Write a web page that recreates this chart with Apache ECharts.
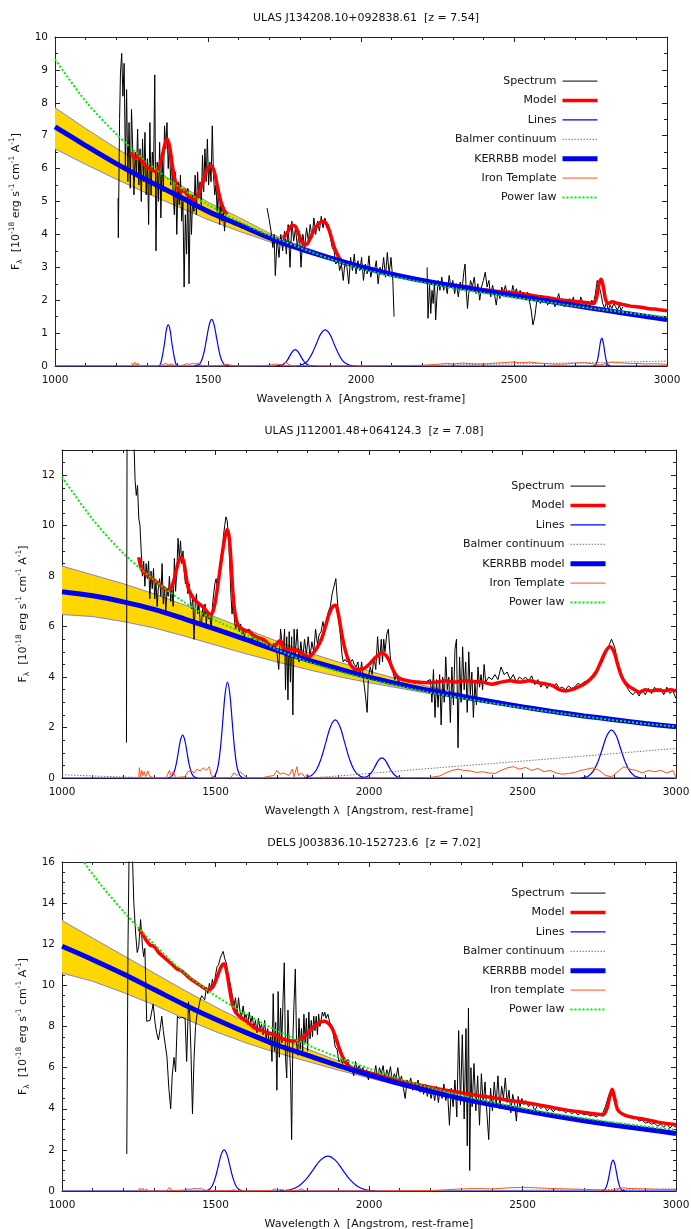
<!DOCTYPE html>
<html><head><meta charset="utf-8">
<script src="https://cdn.jsdelivr.net/npm/echarts@6/dist/echarts.min.js"></script>
<style>html,body{margin:0;padding:0;background:#fff}#c{width:691px;height:1229px}</style>
</head><body><div id="c"></div>
<script>
// ---------- shared ----------
const titles = ['ULAS J134208.10+092838.61  [z = 7.54]', 'ULAS J112001.48+064124.3  [z = 7.08]', 'DELS J003836.10-152723.6  [z = 7.02]'];
const wl = [1000,1100,1200,1300,1400,1500,1600,1700,1800,1900,2000,2100,2200,2300,2400,2500,2600,2700,2800,2900,3000];

// ---------- panel 1 ----------
const spec1 = [[1206,5.1],[1207,3.9],[1211,7.5],[1214,8.9],[1218,9.5],[1222,8.2],[1226,9.2],[1230,6.0],[1234,8.4],[1238,5.6],[1242,7.4],[1246,5.4],[1250,7.8],[1254,6.6],[1258,5.2],[1262,6.5],[1266,5.8],[1270,7.2],[1274,5.5],[1278,6.6],[1282,5.0],[1286,6.9],[1290,5.6],[1294,7.1],[1298,5.2],[1302,6.3],[1306,4.3],[1310,7.4],[1314,5.2],[1318,6.5],[1322,5.9],[1326,8.85],[1330,3.5],[1334,6.2],[1338,5.0],[1342,6.8],[1346,4.5],[1350,6.4],[1354,5.3],[1358,7.3],[1362,6.6],[1366,7.4],[1370,6.0],[1374,6.8],[1378,5.5],[1382,6.4],[1386,5.3],[1390,4.6],[1394,5.9],[1398,4.0],[1402,5.6],[1406,4.9],[1410,5.8],[1414,4.4],[1418,5.0],[1422,2.4],[1426,4.6],[1430,3.4],[1434,5.4],[1438,2.5],[1442,5.1],[1446,4.0],[1450,5.2],[1454,4.7],[1458,5.8],[1462,4.6],[1466,5.9],[1470,5.1],[1474,5.6],[1478,4.9],[1482,6.4],[1486,5.3],[1490,6.6],[1494,5.6],[1498,6.9],[1502,5.5],[1506,6.2],[1510,5.6],[1514,7.3],[1518,5.8],[1522,5.2],[1526,5.5],[1530,4.7],[1534,5.4],[1538,4.3],[1542,5.0],[1546,4.4],[1550,4.8],[1554,4.1],[1558,4.6],[1620,null],
[1693,4.8],[1700,4.45],[1706,4.1],[1712,3.6],[1716,4.0],[1720,2.75],[1726,3.9],[1732,3.3],[1738,4.0],[1744,3.5],[1750,4.1],[1756,3.4],[1762,4.3],[1768,3.0],[1774,4.4],[1780,3.8],[1786,4.2],[1792,3.6],[1798,4.1],[1804,3.0],[1810,4.0],[1816,3.6],[1822,4.2],[1828,3.8],[1834,4.3],[1840,3.9],[1846,4.5],[1852,4.0],[1858,4.4],[1864,4.1],[1870,4.55],[1876,4.2],[1882,4.5],[1888,4.2],[1894,4.3],[1900,3.9],[1906,3.6],[1912,3.5],[1918,3.1],[1924,3.4],[1930,2.9],[1936,3.1],[1942,2.6],[1948,3.2],[1954,3.0],[1960,2.5],[1966,3.3],[1972,2.9],[1978,3.4],[1984,2.8],[1990,3.2],[1996,2.9],[2002,3.3],[2008,2.6],[2014,3.1],[2020,2.8],[2026,3.35],[2032,2.7],[2038,3.0],[2044,2.9],[2050,3.2],[2056,2.5],[2062,3.0],[2068,2.8],[2074,3.3],[2080,2.7],[2086,3.45],[2092,2.8],[2098,3.3],[2104,2.6],[2108,1.5],[2160,null],
[2216,3.0],[2219,1.45],[2224,2.5],[2228,1.6],[2232,2.3],[2236,1.9],[2240,2.6],[2244,1.4],[2248,2.1],[2252,2.6],[2258,2.3],[2264,2.7],[2270,2.3],[2276,2.5],[2282,2.2],[2288,2.75],[2294,2.4],[2300,2.6],[2306,2.2],[2312,2.5],[2318,2.1],[2324,2.55],[2330,2.3],[2336,2.85],[2340,3.1],[2344,2.3],[2348,1.75],[2352,2.2],[2358,2.6],[2364,2.4],[2370,2.7],[2376,2.2],[2382,2.5],[2388,2.0],[2394,2.4],[2400,2.6],[2406,2.85],[2412,2.4],[2418,2.6],[2424,2.1],[2430,2.45],[2436,2.2],[2442,1.85],[2448,2.3],[2454,2.05],[2460,2.4],[2466,2.25],[2472,2.45],[2478,2.15],[2484,2.3],[2490,2.1],[2496,2.45],[2502,2.2],[2508,2.35],[2514,2.1],[2520,2.3],[2526,2.15],[2532,2.2],[2538,2.0],[2544,2.25],[2550,2.0],[2556,1.7],[2562,1.25],[2568,1.5],[2574,1.95],[2580,2.1],[2586,1.9],[2592,2.15],[2598,1.95],[2604,2.1],[2610,1.85],[2616,2.05],[2622,1.9],[2628,2.1],[2634,1.8],[2640,2.0],[2646,2.2],[2652,1.95],[2658,2.05],[2664,1.8],[2670,2.0],[2676,1.85],[2682,2.05],[2688,1.9],[2694,2.1],[2700,1.85],[2706,2.0],[2712,1.8],[2718,2.1],[2724,1.95],[2730,2.0],[2736,1.85],[2742,1.95],[2748,1.8],[2754,2.0],[2760,1.9],[2766,2.2],[2772,2.6],[2778,2.45],[2784,2.2],[2790,1.9],[2796,1.75],[2802,1.95],[2808,1.7],[2814,1.85],[2820,1.75],[2826,1.9],[2832,1.8],[2838,1.7],[2844,1.85],[2850,1.7],[2856,1.8]];
const model1 = [[1250,6.5],[1262,6.3],[1272,6.4],[1282,6.25],[1295,6.1],[1310,6.0],[1325,5.92],[1338,6.0],[1348,6.3],[1358,6.7],[1366,6.9],[1374,6.7],[1382,6.2],[1392,5.65],[1402,5.4],[1412,5.3],[1422,5.35],[1432,5.2],[1442,5.15],[1452,5.05],[1462,5.1],[1472,5.3],[1482,5.55],[1492,5.85],[1502,6.05],[1512,6.08],[1522,5.85],[1532,5.4],[1542,5.0],[1552,4.75],[1562,4.6],[1650,null],
[1745,3.9],[1755,4.0],[1765,4.15],[1775,4.28],[1785,4.25],[1795,4.05],[1805,3.8],[1815,3.68],[1825,3.72],[1835,3.9],[1845,4.1],[1855,4.25],[1865,4.35],[1875,4.4],[1885,4.35],[1895,4.15],[1905,3.85],[1915,3.55],[1925,3.35],[1935,3.2],[1945,3.12],[1955,3.05],[2080,null],
[2205,2.58],[2230,2.53],[2260,2.5],[2290,2.46],[2320,2.43],[2350,2.4],[2380,2.34],[2410,2.31],[2440,2.27],[2470,2.25],[2500,2.22],[2530,2.2],[2560,2.14],[2590,2.1],[2620,2.06],[2650,2.01],[2680,1.98],[2710,1.95],[2740,1.92],[2760,1.9],[2770,2.1],[2778,2.5],[2785,2.64],[2792,2.4],[2800,2.0],[2810,1.9],[2820,1.95],[2840,1.9],[2860,1.86],[2880,1.82],[2900,1.8],[2920,1.78],[2940,1.74],[2960,1.73],[2980,1.7],[3000,1.68]];
const lines1 = [
 [[1000,0],[3000,0]],
 [[1335,0],[1343,0.03],[1348,0.17],[1353,0.41],[1359,0.76],[1364,1.10],[1370,1.25],[1376,1.10],[1381,0.76],[1387,0.41],[1392,0.17],[1397,0.03],[1405,0]],
 [[1455,0],[1464,0.02],[1472,0.06],[1480,0.19],[1488,0.46],[1496,0.86],[1504,1.25],[1512,1.42],[1520,1.25],[1528,0.86],[1536,0.46],[1544,0.19],[1552,0.06],[1560,0.02],[1570,0]],
 [[1720,0],[1731,0.01],[1740,0.02],[1749,0.07],[1758,0.16],[1767,0.3],[1776,0.44],[1785,0.5],[1794,0.44],[1803,0.3],[1812,0.16],[1821,0.07],[1830,0.02],[1839,0.01],[1850,0]],
 [[1785,0],[1796,0.01],[1810,0.05],[1825,0.15],[1839,0.36],[1854,0.67],[1868,0.97],[1883,1.1],[1898,0.97],[1912,0.67],[1927,0.36],[1941,0.15],[1956,0.05],[1970,0.01],[1985,0]],
 [[2760,0],[2763,0.01],[2767,0.04],[2771,0.12],[2775,0.28],[2779,0.52],[2783,0.75],[2787,0.85],[2791,0.75],[2795,0.52],[2799,0.28],[2803,0.12],[2807,0.04],[2811,0.01],[2815,0]]
];
const balmer1 = [[1000,0],[2000,0],[2200,0.02],[2400,0.05],[2600,0.08],[2800,0.11],[3000,0.15]];
const kerrbb1 = [7.27,6.7,6.15,5.65,5.18,4.7,4.3,3.9,3.57,3.28,3.01,2.79,2.6,2.44,2.29,2.14,1.99,1.84,1.69,1.55,1.41];
const bandLo1 = [6.6,6.13,5.68,5.25,4.85,4.45,4.1,3.78,3.5,3.23,2.97,2.75,2.56,2.4,2.25,2.1,1.95,1.8,1.65,1.51,1.37];
const bandHi1 = [7.85,7.22,6.62,6.07,5.55,4.98,4.52,4.04,3.66,3.34,3.06,2.84,2.64,2.48,2.33,2.18,2.03,1.88,1.73,1.59,1.45];
const iron1 = [[1250,0.1],[1255,0.02],[1260,0.12],[1265,0.03],[1270,0.1],[1275,0.0],[1290,0.01],[1320,0.0],[1350,0.03],[1360,0.08],[1370,0.04],[1380,0.06],[1390,0.02],[1400,0.0],[1420,0.03],[1430,0.07],[1440,0.05],[1450,0.08],[1460,0.06],[1470,0.09],[1480,0.02],[1500,0.0],[1540,0.02],[1560,0.05],[1580,0.02],[1600,0.0],[1650,0.01],[1700,0.02],[1720,0.06],[1740,0.04],[1755,0.12],[1760,0.16],[1765,0.03],[1780,0.0],[1800,0.01],[1900,0.0],[2000,0.0],[2100,0.01],[2200,0.02],[2250,0.05],[2280,0.08],[2300,0.06],[2330,0.09],[2360,0.07],[2400,0.06],[2430,0.08],[2460,0.1],[2490,0.12],[2520,0.1],[2550,0.12],[2580,0.09],[2610,0.07],[2640,0.05],[2670,0.06],[2700,0.09],[2730,0.1],[2760,0.06],[2780,0.03],[2800,0.08],[2820,0.12],[2840,0.1],[2860,0.09],[2880,0.07],[2900,0.08],[2930,0.06],[2960,0.07],[3000,0.05]];
const power1 = [9.32,8.05,7.05,6.2,5.48,4.9,4.4,3.97,3.6,3.25,2.95,2.73,2.54,2.37,2.22,2.08,1.95,1.82,1.7,1.59,1.49];

// ---------- panel 2 ----------
const spec2 = [[1210,1.4],[1212,14],[1218,15],[1222,18],[1228,16],[1234,13.5],[1238,11.8],[1242,11.2],[1246,11.6],[1250,10.3],[1254,10.0],[1258,9.0],[1262,8.0],[1266,8.6],[1270,7.6],[1274,8.5],[1278,7.9],[1282,8.6],[1286,7.1],[1290,8.2],[1294,7.5],[1298,8.3],[1302,7.1],[1306,7.8],[1310,6.8],[1314,7.6],[1318,7.9],[1322,7.2],[1326,8.5],[1330,6.9],[1334,7.6],[1338,6.6],[1342,7.4],[1346,7.2],[1350,8.0],[1354,7.0],[1358,7.5],[1362,6.8],[1366,8.7],[1370,7.4],[1374,8.2],[1378,9.5],[1382,8.7],[1386,9.4],[1390,8.5],[1394,9.0],[1398,8.2],[1402,7.7],[1406,8.0],[1410,7.3],[1414,7.7],[1418,7.0],[1422,6.7],[1426,7.2],[1430,5.5],[1434,6.9],[1438,7.3],[1442,6.5],[1446,6.9],[1450,6.2],[1454,6.0],[1458,6.7],[1462,6.4],[1466,6.9],[1470,6.1],[1474,6.6],[1478,6.3],[1482,6.4],[1486,5.9],[1490,6.8],[1494,7.3],[1498,7.7],[1502,7.9],[1506,7.5],[1510,8.0],[1514,8.3],[1518,8.8],[1522,9.0],[1526,9.6],[1530,10.0],[1534,10.35],[1538,10.2],[1542,9.6],[1546,8.6],[1550,7.3],[1554,6.5],[1558,7.1],[1562,6.2],[1566,5.9],[1570,6.3],[1574,6.0],[1578,5.8],[1582,6.1],[1586,5.7],[1590,5.9],[1594,5.6],[1598,5.8],[1610,5.9],[1620,5.5],[1630,5.6],[1640,5.4],[1650,5.5],[1660,5.2],[1670,5.3],[1680,5.1],[1690,5.35],[1700,5.0],[1706,4.3],[1712,5.9],[1720,4.9],[1725,5.9],[1728,3.5],[1732,5.6],[1736,3.1],[1740,5.8],[1744,3.8],[1748,5.6],[1752,2.5],[1756,5.9],[1760,4.9],[1766,5.9],[1772,4.6],[1778,5.4],[1784,4.7],[1790,5.5],[1796,4.9],[1802,5.6],[1808,4.8],[1814,5.4],[1820,5.0],[1826,5.9],[1832,5.3],[1838,5.7],[1844,5.8],[1850,6.2],[1856,5.8],[1862,6.3],[1868,6.6],[1874,6.8],[1880,7.3],[1886,7.6],[1892,7.9],[1896,7.2],[1900,6.6],[1904,6.0],[1908,5.5],[1912,4.9],[1916,4.6],[1922,4.7],[1928,4.6],[1934,4.75],[1940,4.6],[1946,4.7],[1952,4.5],[1958,4.4],[1964,4.6],[1970,4.0],[1976,4.6],[1982,3.9],[1988,3.3],[1994,2.6],[1998,4.0],[2004,4.4],[2010,4.1],[2016,4.8],[2022,4.3],[2028,5.6],[2034,4.5],[2040,5.5],[2044,4.6],[2048,5.5],[2052,5.0],[2058,5.7],[2063,5.9],[2068,5.0],[2072,4.5],[2078,4.2],[2084,3.9],[2090,4.1],[2096,3.8],[2102,4.0],[2110,3.85],[2120,3.9],[2130,3.8],[2140,3.85],[2150,3.75],[2160,3.85],[2170,3.8],[2180,3.75],[2190,3.85],[2200,3.9],[2205,3.0],[2210,4.3],[2215,2.4],[2220,3.9],[2225,2.8],[2230,4.1],[2235,2.1],[2240,4.0],[2245,3.0],[2250,4.8],[2255,3.5],[2260,4.0],[2265,2.2],[2270,4.4],[2275,2.9],[2280,5.1],[2285,5.5],[2290,1.2],[2295,4.8],[2300,3.0],[2305,5.2],[2310,3.5],[2315,4.6],[2320,2.6],[2325,5.0],[2330,3.3],[2335,4.2],[2340,2.4],[2345,3.8],[2350,2.9],[2355,4.4],[2360,3.6],[2365,4.1],[2370,3.5],[2375,4.5],[2380,3.8],[2390,4.0],[2400,3.9],[2410,4.1],[2420,3.9],[2430,4.4],[2440,4.1],[2450,4.2],[2460,3.9],[2470,4.1],[2480,3.8],[2490,4.0],[2500,3.9],[2510,4.0],[2520,3.85],[2530,4.05],[2540,3.7],[2550,3.9],[2560,3.6],[2570,3.8],[2580,3.55],[2590,3.75],[2600,3.6],[2610,3.75],[2620,3.55],[2630,3.6],[2640,3.5],[2650,3.65],[2660,3.55],[2670,3.6],[2680,3.75],[2690,3.7],[2700,3.8],[2710,3.85],[2720,3.95],[2730,4.0],[2740,4.2],[2750,4.4],[2760,4.6],[2770,4.9],[2780,5.2],[2790,5.5],[2800,5.2],[2810,4.6],[2820,4.2],[2830,3.9],[2840,3.6],[2850,3.4],[2860,3.3],[2870,3.45],[2880,3.25],[2890,3.5],[2900,3.3],[2910,3.55],[2920,3.35],[2930,3.6],[2940,3.4],[2950,3.55],[2960,3.3],[2970,3.6],[2980,3.35],[2990,3.45],[3000,3.15]];
const model2 = [[1250,8.75],[1258,8.3],[1266,8.15],[1276,8.05],[1290,7.95],[1305,7.8],[1320,7.65],[1335,7.5],[1348,7.45],[1358,7.6],[1368,8.0],[1378,8.5],[1388,8.75],[1396,8.6],[1404,8.0],[1412,7.5],[1422,7.25],[1432,7.05],[1442,6.95],[1452,6.85],[1462,6.75],[1472,6.6],[1482,6.5],[1490,6.55],[1498,6.9],[1506,7.5],[1514,8.2],[1522,8.9],[1530,9.5],[1538,9.85],[1545,9.5],[1551,8.5],[1557,7.3],[1564,6.5],[1572,6.1],[1582,5.95],[1595,5.85],[1610,5.8],[1625,5.65],[1640,5.55],[1655,5.5],[1670,5.35],[1685,5.2],[1695,5.25],[1705,5.4],[1712,5.45],[1720,5.15],[1735,5.1],[1750,5.1],[1765,5.05],[1780,4.95],[1795,4.85],[1805,4.8],[1818,4.95],[1830,5.15],[1845,5.5],[1858,6.0],[1870,6.5],[1882,6.8],[1891,6.85],[1900,6.5],[1910,5.8],[1920,5.2],[1932,4.7],[1945,4.4],[1958,4.3],[1970,4.3],[1985,4.35],[2000,4.5],[2015,4.7],[2028,4.85],[2040,4.95],[2052,4.9],[2064,4.7],[2076,4.35],[2090,4.05],[2105,3.92],[2130,3.85],[2160,3.8],[2190,3.78],[2220,3.8],[2250,3.85],[2280,3.8],[2310,3.85],[2340,3.82],[2370,3.8],[2400,3.72],[2430,3.8],[2460,3.85],[2490,3.8],[2520,3.85],[2550,3.78],[2580,3.72],[2600,3.65],[2620,3.5],[2640,3.45],[2660,3.5],[2680,3.6],[2700,3.72],[2720,3.9],[2740,4.2],[2755,4.6],[2770,5.0],[2785,5.2],[2798,5.0],[2810,4.5],[2822,4.05],[2836,3.75],[2850,3.6],[2865,3.5],[2880,3.4],[2900,3.5],[2920,3.45],[2940,3.5],[2960,3.45],[2980,3.5],[3000,3.45]];
const lines2 = [
 [[1000,0],[3000,0]],
 [[1345,0],[1351,0.02],[1358,0.075],[1365,0.23],[1372,0.55],[1379,1.03],[1386,1.5],[1393,1.7],[1400,1.5],[1407,1.03],[1414,0.55],[1421,0.23],[1428,0.075],[1435,0.02],[1442,0]],
 [[1485,0],[1494,0.04],[1501.5,0.17],[1509,0.51],[1516.5,1.23],[1524,2.3],[1531.5,3.35],[1539,3.8],[1546.5,3.35],[1554,2.3],[1561.5,1.23],[1569,0.51],[1576.5,0.17],[1584,0.04],[1593,0]],
 [[1790,0],[1797,0.026],[1812.5,0.10],[1828,0.31],[1843.5,0.75],[1859,1.39],[1874.5,2.03],[1890,2.3],[1905.5,2.03],[1921,1.39],[1936.5,0.75],[1952,0.31],[1967.5,0.10],[1983,0.026],[1990,0]],
 [[1970,0],[1979,0.009],[1989.5,0.035],[2000,0.11],[2010.5,0.26],[2021,0.49],[2031.5,0.71],[2042,0.8],[2052.5,0.71],[2063,0.49],[2073.5,0.26],[2084,0.11],[2094.5,0.035],[2105,0.009],[2114,0]],
 [[2690,0],[2700,0.021],[2715,0.083],[2730,0.26],[2745,0.62],[2760,1.15],[2775,1.68],[2790,1.9],[2805,1.68],[2820,1.15],[2835,0.62],[2850,0.26],[2865,0.083],[2880,0.021],[2890,0]]
];
const balmer2 = [0.13,0.08,0.04,0.01,0,0,0,0,0,0.08,0.18,0.28,0.38,0.48,0.57,0.67,0.77,0.87,0.97,1.07,1.17];
const kerrbb2 = [7.38,7.22,6.98,6.68,6.3,5.9,5.48,5.06,4.68,4.33,4.0,3.72,3.46,3.23,3.02,2.82,2.63,2.46,2.31,2.16,2.03];
const bandLo2 = [6.48,6.4,6.2,5.95,5.62,5.27,4.92,4.6,4.3,4.02,3.78,3.56,3.34,3.14,2.95,2.76,2.58,2.41,2.26,2.12,1.99];
const bandHi2 = [8.4,8.05,7.7,7.3,6.85,6.38,5.9,5.42,4.98,4.6,4.24,3.9,3.6,3.34,3.1,2.89,2.69,2.51,2.36,2.2,2.07];
const iron2 = [[1250,0.0],[1252,0.41],[1256,0.05],[1260,0.3],[1264,0.1],[1268,0.25],[1272,0.05],[1280,0.28],[1285,0.08],[1290,0.02],[1300,0.0],[1340,0.02],[1350,0.3],[1356,0.05],[1362,0.25],[1370,0.02],[1400,0.05],[1410,0.25],[1420,0.3],[1430,0.2],[1440,0.35],[1450,0.28],[1460,0.4],[1470,0.3],[1480,0.45],[1485,0.15],[1495,0.0],[1550,0.02],[1560,0.2],[1570,0.1],[1580,0.25],[1590,0.15],[1600,0.02],[1650,0.01],[1690,0.1],[1700,0.3],[1710,0.15],[1720,0.2],[1740,0.1],[1750,0.35],[1756,0.05],[1765,0.45],[1770,0.1],[1780,0.2],[1790,0.05],[1800,0.15],[1810,0.02],[1820,0.0],[2000,0.0],[2200,0.02],[2230,0.08],[2250,0.2],[2270,0.3],[2290,0.35],[2310,0.3],[2330,0.28],[2350,0.22],[2370,0.25],[2390,0.2],[2410,0.18],[2430,0.3],[2450,0.4],[2470,0.45],[2490,0.35],[2510,0.42],[2530,0.3],[2550,0.38],[2570,0.25],[2590,0.3],[2610,0.2],[2630,0.15],[2650,0.18],[2670,0.22],[2690,0.3],[2710,0.35],[2730,0.4],[2750,0.3],[2770,0.1],[2790,0.05],[2810,0.25],[2830,0.45],[2850,0.35],[2870,0.3],[2890,0.2],[2910,0.3],[2930,0.25],[2950,0.3],[2970,0.2],[2990,0.3],[3000,0.02]];
const power2 = [11.93,10.25,8.9,7.85,6.95,6.25,5.7,5.1,4.6,4.22,3.9,3.63,3.38,3.17,2.97,2.78,2.61,2.44,2.29,2.15,2.04];

// ---------- panel 3 ----------
const spec3 = [[1211,1.8],[1215,12],[1219,17],[1224,19],[1229,16.5],[1234,14],[1240,12.5],[1245,11.6],[1250,11.9],[1256,13.2],[1262,11.9],[1266,11.4],[1270,11.8],[1276,8.25],[1281,8.2],[1287,8.3],[1292,8.7],[1297,9.1],[1303,8.2],[1308,7.7],[1314,7.35],[1320,7.9],[1325,8.5],[1330,7.8],[1336,7.75],[1342,6.5],[1348,5.0],[1354,4.0],[1359,5.6],[1365,6.5],[1370,5.8],[1376,8.5],[1382,8.4],[1390,8.45],[1396,8.5],[1401,8.4],[1406,6.3],[1412,9.2],[1416,8.6],[1420,6.8],[1425,3.75],[1430,6.4],[1435,8.0],[1440,8.6],[1445,8.9],[1450,9.3],[1455,9.5],[1460,9.55],[1465,9.3],[1470,9.9],[1475,9.6],[1480,10.1],[1485,9.8],[1490,10.3],[1495,9.9],[1500,10.5],[1505,10.9],[1510,11.0],[1515,11.3],[1520,11.5],[1525,11.65],[1530,11.3],[1535,11.1],[1540,10.6],[1545,10.3],[1550,9.9],[1555,9.5],[1560,9.0],[1565,9.4],[1570,8.6],[1575,9.4],[1580,8.7],[1585,8.5],[1590,9.0],[1595,8.4],[1600,8.6],[1605,8.1],[1610,8.7],[1615,8.2],[1620,8.5],[1625,7.9],[1630,8.3],[1635,7.7],[1640,8.4],[1645,7.9],[1650,8.1],[1655,7.6],[1660,8.3],[1665,7.4],[1670,7.9],[1675,7.1],[1680,7.5],[1684,6.3],[1688,9.6],[1692,6.8],[1696,8.2],[1700,4.9],[1704,9.7],[1708,6.5],[1712,8.9],[1716,7.2],[1720,9.3],[1724,11.1],[1728,6.5],[1732,5.5],[1736,8.8],[1740,7.2],[1744,6.0],[1748,2.5],[1752,7.4],[1756,9.2],[1760,10.8],[1764,7.2],[1768,6.6],[1772,8.4],[1776,6.9],[1780,7.9],[1784,6.8],[1788,8.6],[1792,7.2],[1796,8.4],[1800,6.8],[1804,8.7],[1808,7.4],[1812,8.3],[1816,7.5],[1820,8.5],[1824,7.8],[1828,8.5],[1832,7.6],[1836,8.6],[1840,8.0],[1844,8.3],[1848,8.7],[1852,8.5],[1856,8.7],[1860,8.4],[1866,8.6],[1872,8.2],[1878,8.1],[1884,7.6],[1890,7.0],[1896,6.9],[1902,6.3],[1908,6.4],[1914,6.2],[1920,6.5],[1926,6.3],[1932,6.4],[1938,5.8],[1944,6.0],[1950,5.6],[1956,6.3],[1962,5.9],[1968,6.1],[1974,5.8],[1980,6.0],[1986,5.7],[1992,5.9],[1998,5.4],[2004,5.8],[2010,5.5],[2016,5.6],[2022,6.1],[2028,5.5],[2034,6.0],[2040,5.7],[2046,6.1],[2052,5.4],[2058,5.9],[2064,5.6],[2070,6.05],[2076,5.3],[2082,5.7],[2088,5.5],[2094,6.0],[2100,5.3],[2106,5.6],[2112,5.0],[2118,4.5],[2124,5.4],[2130,5.2],[2136,5.5],[2142,4.9],[2148,5.3],[2154,5.1],[2160,5.4],[2166,4.8],[2172,5.1],[2178,4.7],[2184,5.2],[2190,4.6],[2196,5.0],[2202,4.5],[2208,4.9],[2214,4.4],[2220,5.1],[2226,4.3],[2232,5.0],[2238,4.5],[2244,5.2],[2250,4.4],[2256,4.8],[2262,3.2],[2268,5.0],[2274,4.1],[2280,5.4],[2286,3.6],[2292,7.8],[2298,4.2],[2304,7.6],[2310,3.5],[2316,7.9],[2320,2.2],[2324,8.9],[2328,1.0],[2332,6.0],[2336,4.1],[2342,6.2],[2348,3.9],[2354,5.6],[2360,3.2],[2366,5.7],[2372,4.2],[2378,5.3],[2384,3.8],[2390,2.5],[2396,5.0],[2402,3.9],[2408,5.3],[2414,4.2],[2420,5.6],[2426,4.0],[2432,5.1],[2438,4.5],[2444,5.5],[2450,4.3],[2456,4.9],[2462,3.8],[2468,4.7],[2474,4.3],[2480,3.4],[2486,4.6],[2492,4.1],[2498,4.5],[2504,4.2],[2510,4.4],[2520,4.1],[2530,4.3],[2540,3.9],[2550,4.2],[2560,4.0],[2570,4.15],[2580,3.9],[2590,4.05],[2600,3.85],[2610,4.0],[2620,3.9],[2630,3.95],[2640,3.8],[2650,3.9],[2660,3.75],[2670,3.85],[2680,3.7],[2690,3.8],[2700,3.7],[2710,3.75],[2720,3.65],[2730,3.7],[2740,3.6],[2750,3.7],[2760,3.75],[2770,4.1],[2780,4.6],[2790,4.9],[2800,4.3],[2810,3.9],[2820,3.75],[2830,3.7],[2840,3.6],[2850,3.65],[2860,3.5],[2870,3.55],[2880,3.4],[2890,3.45],[2900,3.3],[2910,3.35],[2920,3.25],[2930,3.3],[2940,3.15],[2950,3.25],[2960,3.1],[2970,3.3],[2980,3.05],[2990,3.2],[3000,3.1]];
const model3 = [[1250,12.75],[1262,12.5],[1274,12.2],[1288,11.95],[1300,11.9],[1315,11.6],[1330,11.4],[1345,11.2],[1360,11.0],[1375,10.8],[1390,10.7],[1405,10.5],[1420,10.3],[1435,10.15],[1450,10.0],[1465,9.85],[1478,9.8],[1490,9.9],[1500,10.2],[1510,10.6],[1520,10.95],[1528,11.05],[1536,10.7],[1545,9.9],[1555,9.1],[1565,8.7],[1578,8.5],[1592,8.35],[1610,8.15],[1630,7.9],[1650,7.8],[1670,7.7],[1690,7.6],[1710,7.45],[1730,7.35],[1750,7.3],[1765,7.3],[1780,7.4],[1795,7.6],[1810,7.85],[1825,8.05],[1840,8.2],[1855,8.25],[1868,8.15],[1880,7.9],[1892,7.45],[1904,6.9],[1916,6.45],[1930,6.15],[1945,5.95],[1965,5.85],[1985,5.8],[2000,5.75],[2050,5.55],[2100,5.35],[2150,5.2],[2200,5.05],[2250,4.9],[2300,4.78],[2350,4.65],[2400,4.55],[2450,4.42],[2500,4.32],[2550,4.2],[2600,4.05],[2650,3.92],[2700,3.82],[2740,3.75],[2762,3.7],[2775,4.0],[2785,4.65],[2792,4.95],[2800,4.55],[2810,3.95],[2828,3.72],[2860,3.58],[2900,3.48],[2940,3.35],[2970,3.28],[3000,3.22]];
const lines3 = [
 [[1000,0],[3000,0]],
 [[1463,0],[1471,0.022],[1480.5,0.088],[1490,0.27],[1499.5,0.65],[1509,1.21],[1518.5,1.77],[1528,2.0],[1537.5,1.77],[1547,1.21],[1556.5,0.65],[1566,0.27],[1575.5,0.088],[1585,0.022],[1593,0]],
 [[1710,0],[1722,0.019],[1746,0.075],[1770,0.23],[1794,0.55],[1818,1.03],[1842,1.5],[1866,1.7],[1890,1.5],[1914,1.03],[1938,0.55],[1962,0.23],[1986,0.075],[2010,0.019],[2022,0]],
 [[2755,0],[2762,0.017],[2767.5,0.066],[2773,0.2],[2778.5,0.49],[2784,0.91],[2789.5,1.32],[2795,1.5],[2800.5,1.32],[2806,0.91],[2811.5,0.49],[2817,0.2],[2822.5,0.066],[2828,0.017],[2835,0]]
];
const balmer3 = [[1000,0],[2200,0],[2500,0.04],[2800,0.07],[3000,0.1]];
const kerrbb3 = [11.9,11.25,10.55,9.8,9.05,8.35,7.7,7.1,6.6,6.1,5.65,5.22,4.85,4.5,4.2,3.92,3.66,3.42,3.2,3.0,2.8];
const bandLo3 = [10.6,10.2,9.65,9.05,8.38,7.75,7.2,6.72,6.3,5.88,5.5,5.12,4.77,4.43,4.13,3.85,3.6,3.36,3.14,2.94,2.74];
const bandHi3 = [13.15,12.3,11.45,10.6,9.75,8.95,8.2,7.5,6.9,6.32,5.8,5.32,4.93,4.57,4.27,3.99,3.72,3.48,3.26,3.06,2.86];
const iron3 = [[1250,0.0],[1252,0.15],[1258,0.03],[1263,0.14],[1268,0.02],[1275,0.1],[1280,0.0],[1340,0.0],[1350,0.18],[1356,0.05],[1365,0.02],[1400,0.05],[1410,0.1],[1420,0.08],[1430,0.12],[1440,0.1],[1450,0.13],[1460,0.08],[1470,0.02],[1500,0.0],[1550,0.02],[1560,0.06],[1570,0.02],[1600,0.0],[1680,0.02],[1695,0.1],[1705,0.05],[1715,0.08],[1730,0.0],[1770,0.04],[1780,0.1],[1790,0.03],[1800,0.0],[2000,0.0],[2200,0.02],[2250,0.06],[2300,0.1],[2350,0.12],[2400,0.1],[2450,0.15],[2500,0.18],[2550,0.15],[2600,0.12],[2650,0.1],[2700,0.08],[2750,0.05],[2790,0.03],[2810,0.12],[2830,0.15],[2850,0.12],[2900,0.1],[2950,0.08],[3000,0.08]];
const power3 = [17.6,15.4,13.6,12.0,10.6,9.5,8.6,7.8,7.1,6.5,5.95,5.45,5.02,4.65,4.32,4.03,3.77,3.54,3.33,3.14,2.97];

// ---------- build ----------
const FONT = 'DejaVu Sans';
const TXT = '#111';
const AX = '#222';
const P = a => a.map(p => [p[0], p[1] == null ? '-' : p[1]]);
const zip = (xs, ys) => xs.map((x, k) => [x, ys[k]]);

const panels = [
  {spec: spec1, model: model1, lines: lines1, balmer: balmer1, kerrbb: kerrbb1, lo: bandLo1, hi: bandHi1, iron: iron1, power: power1, ironName: 'Iron Template',
   ymax: 10, yint: 1, ysplit: 2, grid: {left: 55, right: 24, top: 37, height: 329}, tx: 361, ty: 8, legend: {right: 86, top: 70.5}, yGap: 30},
  {spec: spec2, model: model2, lines: lines2, balmer: zip(wl, balmer2), kerrbb: kerrbb2, lo: bandLo2, hi: bandHi2, iron: iron2, power: power2, ironName: 'Iron Template',
   ymax: 13, yint: 2, ysplit: 4, grid: {left: 62, right: 15, top: 450, height: 328}, tx: 369, ty: 421, legend: {right: 78, top: 475.5}, yGap: 31},
  {spec: spec3, model: model3, lines: lines3, balmer: balmer3, kerrbb: kerrbb3, lo: bandLo3, hi: bandHi3, iron: iron3, power: power3, ironName: 'Iron template',
   ymax: 16, yint: 2, ysplit: 4, grid: {left: 62, right: 15, top: 862, height: 329}, tx: 369, ty: 833, legend: {right: 78, top: 882.5}, yGap: 31}
];

const grids = [], xAxes = [], yAxes = [], series = [], legends = [], titleArr = [];
const tickCommon = () => ({
  axisLine: {show: true, onZero: false, lineStyle: {color: AX, width: 1}},
  axisTick: {show: true, inside: true, length: 5, lineStyle: {color: AX, width: 1}},
  splitLine: {show: false}, minorSplitLine: {show: false}
});
const yName = '{n|F}{sub|λ}{n|  [10}{sup|-18}{n| erg s}{sup|-1}{n| cm}{sup|-1}{n| A}{sup|-1}{n|]}';
const numFmt = v => String(v);

panels.forEach((p, i) => {
  grids.push(Object.assign({outerBoundsMode: 'none', containLabel: false}, p.grid));
  titleArr.push({text: titles[i], left: p.tx, top: p.ty, textAlign: 'center',
    textStyle: {fontFamily: FONT, fontSize: 11, fontWeight: 'normal', color: TXT}});
  const xa = 2 * i, ya = 2 * i;
  const xMinor = {show: true, length: 3, splitNumber: 5, lineStyle: {color: AX, width: 1}};
  xAxes.push(Object.assign(tickCommon(), {type: 'value', gridIndex: i, min: 1000, max: 3000, interval: 500, position: 'bottom',
    minorTick: xMinor,
    axisLabel: {show: true, fontFamily: FONT, fontSize: 10.5, color: TXT, margin: 9, formatter: numFmt},
    name: 'Wavelength λ  [Angstrom, rest-frame]', nameLocation: 'middle', nameGap: 28,
    nameTextStyle: {fontFamily: FONT, fontSize: 11, color: TXT}}));
  xAxes.push(Object.assign(tickCommon(), {type: 'value', gridIndex: i, min: 1000, max: 3000, interval: 500, position: 'top',
    minorTick: xMinor, axisLabel: {show: false}}));
  const yMinor = {show: true, length: 3, splitNumber: p.ysplit, lineStyle: {color: AX, width: 1}};
  yAxes.push(Object.assign(tickCommon(), {type: 'value', gridIndex: i, min: 0, max: p.ymax, interval: p.yint, position: 'left',
    minorTick: yMinor,
    axisLabel: {show: true, fontFamily: FONT, fontSize: 10.5, color: TXT, margin: 7, formatter: numFmt, showMaxLabel: p.ymax % p.yint === 0},
    name: yName, nameLocation: 'middle', nameGap: p.yGap, nameRotate: 90,
    nameTextStyle: {fontFamily: FONT, fontSize: 11, color: TXT,
      rich: {
        n: {fontFamily: FONT, fontSize: 11, color: TXT, lineHeight: 16},
        sup: {fontFamily: FONT, fontSize: 7.5, color: TXT, lineHeight: 10, verticalAlign: 'top'},
        sub: {fontFamily: FONT, fontSize: 7.5, color: TXT, lineHeight: 10, verticalAlign: 'bottom'}
      }}}));
  yAxes.push(Object.assign(tickCommon(), {type: 'value', gridIndex: i, min: 0, max: p.ymax, interval: p.yint, position: 'right',
    minorTick: yMinor, axisLabel: {show: false}}));

  const base = (name, data, lineStyle, extra) => Object.assign({
    type: 'line', name, xAxisIndex: xa, yAxisIndex: ya, data, symbol: 'none', showSymbol: false,
    connectNulls: false, silent: true, animation: false, lineStyle, emphasis: {disabled: true}
  }, extra || {});

  // uncertainty band: quads between consecutive wavelengths, through the axis scales
  const bandData = wl.map((x, k) => [x, p.lo[k], p.hi[k]]);
  series.push({
    type: 'custom', name: 'band_' + i, xAxisIndex: xa, yAxisIndex: ya, silent: true, animation: false,
    data: bandData, encode: {x: 0, y: [1, 2]}, clip: true,
    renderItem: (params, api) => {
      const k = params.dataIndex;
      if (k >= bandData.length - 1) return null;
      const a = bandData[k], b = bandData[k + 1];
      const pts = [api.coord([a[0], a[2]]), api.coord([b[0], b[2]]), api.coord([b[0], b[1]]), api.coord([a[0], a[1]])];
      return {type: 'polygon', shape: {points: pts}, style: {fill: '#ffd700', stroke: '#ffd700', lineWidth: 0.6}};
    }
  });
  const edge = {color: '#6b6bff', width: 0.8};
  series.push(base('band_lo_' + i, zip(wl, p.lo), edge));
  series.push(base('band_hi_' + i, zip(wl, p.hi), edge));
  series.push(base('Spectrum', P(p.spec), {color: '#000000', width: 1}));
  series.push(base('Model', P(p.model), {color: '#ff0000', width: 3.5}, {smooth: 0.3}));
  p.lines.forEach(seg => series.push(base('Lines', seg, {color: '#0000ff', width: 1.2}, {smooth: 0.4})));
  series.push(base('Balmer continuum', p.balmer, {color: '#777777', width: 1, type: [1.5, 1.5]}));
  series.push(base('KERRBB model', zip(wl, p.kerrbb), {color: '#0000f0', width: 5}, {smooth: 0.3}));
  series.push(base(p.ironName, p.iron, {color: '#ff5218', width: 1}));
  series.push(base('Power law', zip(wl, p.power), {color: '#00ee00', width: 2, type: [2, 2]}, {smooth: 0.3}));

  legends.push({
    orient: 'vertical', right: p.legend.right, top: p.legend.top, align: 'right',
    itemWidth: 35, itemHeight: 14, itemGap: 8.2, selectedMode: false,
    itemStyle: {opacity: 0, borderWidth: 0},
    lineStyle: {width: 'inherit', type: 'inherit'},
    textStyle: {fontFamily: FONT, fontSize: 11, color: TXT, padding: [0, 1, 0, 0]},
    data: ['Spectrum', 'Model', 'Lines', 'Balmer continuum', 'KERRBB model', p.ironName, 'Power law']
  });
});

const chart = echarts.init(document.getElementById('c'), null, {renderer: 'canvas'});
chart.setOption({
  animation: false,
  backgroundColor: '#ffffff',
  title: titleArr,
  grid: grids,
  xAxis: xAxes,
  yAxis: yAxes,
  legend: legends,
  series: series
});
</script></body></html>
